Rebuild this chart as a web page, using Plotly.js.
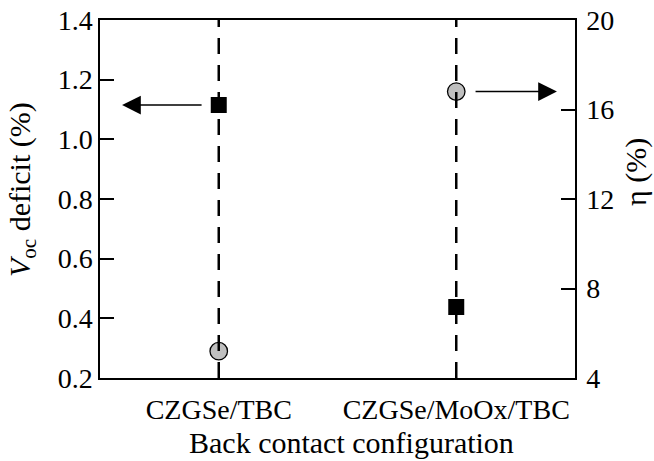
<!DOCTYPE html>
<html>
<head>
<meta charset="utf-8">
<script src="https://cdn.plot.ly/plotly-3.0.1.min.js"></script>
<style>html,body{margin:0;padding:0;background:#fff;}#chart{width:654px;height:461px;}</style>
</head>
<body>
<div id="chart"></div>
<script>
// Data
const categories = ["CZGSe/TBC", "CZGSe/MoOx/TBC"];
const vocDeficit = [1.115, 0.438];   // left axis
const efficiency = [5.2, 16.8];      // right axis, η (%)
const leftTicks = [0.2, 0.4, 0.6, 0.8, 1.0, 1.2, 1.4];
const rightTicks = [4, 8, 12, 16, 20];

const FONT = "Liberation Serif";

const lineX = [], lineY = [];
categories.forEach((c, i) => {
  if (i) { lineX.push(null); lineY.push(null); }
  lineX.push(c, c);
  lineY.push(rightTicks[0], rightTicks[rightTicks.length - 1]);
});

const traces = [
  {
    x: categories, y: vocDeficit, type: "scatter", mode: "markers",
    marker: {symbol: "square", size: 16, color: "#000"},
    yaxis: "y", hoverinfo: "skip"
  },
  {
    x: categories, y: efficiency, type: "scatter", mode: "markers",
    marker: {symbol: "circle", size: 17.5, color: "#bfbfbf", line: {color: "#000", width: 1.3}},
    yaxis: "y2", hoverinfo: "skip"
  },
  {
    x: lineX, y: lineY, type: "scatter", mode: "lines",
    line: {color: "#000", width: 2.5, dash: "16px,11px"},
    yaxis: "y2", hoverinfo: "skip", connectgaps: false
  }
];

const layout = {
  width: 654, height: 461,
  margin: {l: 100, r: 79, t: 20, b: 83},
  paper_bgcolor: "#fff", plot_bgcolor: "#fff",
  showlegend: false,
  font: {family: FONT, size: 24, color: "#000"},
  xaxis: {
    type: "category", range: [-0.5, 1.5],
    showline: true, linecolor: "#000", linewidth: 1.5, mirror: true,
    ticks: "inside", ticklen: 14, tickwidth: 1.5, tickcolor: "#000",
    showgrid: false, zeroline: false,
    tickfont: {family: FONT, size: 28, color: "#000"},
    ticklabelstandoff: 6
  },
  yaxis: {
    range: [0.2, 1.4], tickvals: leftTicks, ticktext: leftTicks.map(v => v.toFixed(1)),
    showline: true, linecolor: "#000", linewidth: 1.5,
    ticks: "inside", ticklen: 14, tickwidth: 1.5, tickcolor: "#000",
    showgrid: false, zeroline: false,
    tickfont: {family: FONT, size: 28, color: "#000"}
  },
  yaxis2: {
    overlaying: "y", side: "right",
    range: [4, 20], tickvals: rightTicks,
    showline: true, linecolor: "#000", linewidth: 1.5,
    ticks: "inside", ticklen: 14, tickwidth: 1.5, tickcolor: "#000",
    showgrid: false, zeroline: false,
    tickfont: {family: FONT, size: 28, color: "#000"},
    ticklabelstandoff: 4
  },
  annotations: [
    {
      xref: "x", yref: "y", axref: "x", ayref: "y",
      x: -0.407, y: vocDeficit[0], ax: -0.066, ay: vocDeficit[0],
      showarrow: true, arrowhead: 2, arrowsize: 2.5, arrowwidth: 1.5, arrowcolor: "#000", text: ""
    },
    {
      xref: "x", yref: "y2", axref: "x", ayref: "y2",
      x: 1.424, y: efficiency[1], ax: 1.075, ay: efficiency[1],
      showarrow: true, arrowhead: 2, arrowsize: 2.5, arrowwidth: 1.5, arrowcolor: "#000", text: ""
    },
    {
      xref: "paper", yref: "paper", x: (22 - 100) / 475, y: (378 - 190) / 358,
      xanchor: "center", yanchor: "middle", textangle: -90, showarrow: false,
      text: "<i>V</i><sub>oc</sub> deficit (%)", font: {family: FONT, size: 30, color: "#000"}
    },
    {
      xref: "paper", yref: "paper", x: (636 - 100) / 475, y: (378 - 172) / 358,
      xanchor: "center", yanchor: "middle", textangle: -90, showarrow: false,
      text: "η (%)", font: {family: FONT, size: 30, color: "#000"}
    },
    {
      xref: "paper", yref: "paper", x: (351 - 100) / 475, y: (378 - 442) / 358,
      xanchor: "center", yanchor: "middle", showarrow: false,
      text: "Back contact configuration", font: {family: FONT, size: 30, color: "#000"}
    }
  ]
};

Plotly.newPlot("chart", traces, layout, {displayModeBar: false});
</script>
</body>
</html>
